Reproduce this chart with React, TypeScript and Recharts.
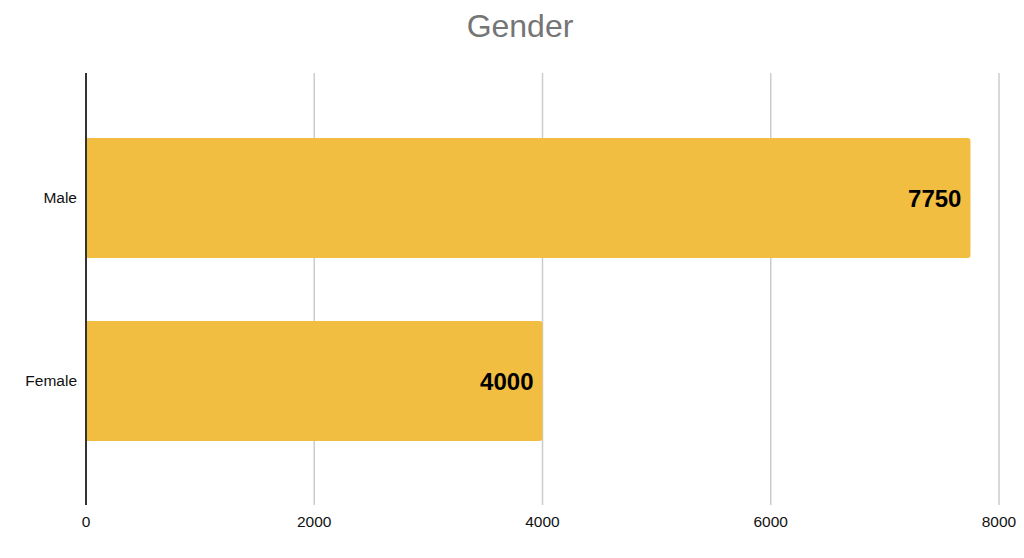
import React from 'react';
import { BarChart, Bar, XAxis, YAxis, CartesianGrid, LabelList } from 'recharts';

const categories = ['Male', 'Female'];
const values = [7750, 4000];
const xTicks = [0, 2000, 4000, 6000, 8000];

const data = categories.map((name, i) => ({ name, value: values[i] }));

const FONT = '"Liberation Sans", Arial, Helvetica, sans-serif';

export default function App() {
  return (
    <div style={{ position: 'absolute', left: 0, top: 0, width: 1024, height: 558, background: '#fff', fontFamily: FONT }}>
      <div
        style={{
          position: 'absolute',
          left: 0,
          width: 1040,
          top: 6,
          textAlign: 'center',
          fontSize: 32,
          color: '#757575',
          lineHeight: '40px',
        }}
      >
        Gender
      </div>
      <BarChart
        width={1024}
        height={558}
        data={data}
        layout="vertical"
        margin={{ top: 73, right: 25, bottom: 23, left: 0 }}
        style={{ fontFamily: FONT }}
      >
        <CartesianGrid horizontal={false} stroke="#cccccc" strokeWidth={1.5} />
        <XAxis
          type="number"
          domain={[0, 8000]}
          ticks={xTicks}
          axisLine={false}
          tickLine={false}
          tickMargin={5}
          height={30}
          tick={{ fill: '#111', fontSize: 15.5 }}
        />
        <YAxis
          type="category"
          dataKey="name"
          width={86}
          axisLine={{ stroke: '#333', strokeWidth: 2 }}
          tickLine={false}
          tickMargin={3}
          padding={{ top: 33, bottom: 33 }}
          tick={{ fill: '#111', fontSize: 15.5 }}
        />
        <Bar dataKey="value" fill="#F1BE42" barSize={120} radius={[0, 3, 3, 0]} isAnimationActive={false}>
          <LabelList
            dataKey="value"
            position="insideRight"
            offset={9}
            fill="#000"
            fontSize={24}
            fontWeight="bold"
          />
        </Bar>
      </BarChart>
    </div>
  );
}
